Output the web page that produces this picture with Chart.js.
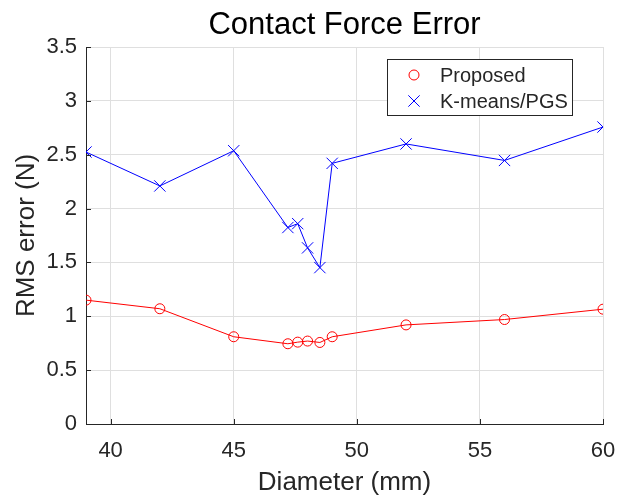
<!DOCTYPE html>
<html>
<head>
<meta charset="utf-8">
<script src="https://cdn.jsdelivr.net/npm/chart.js@4.4.1/dist/chart.umd.min.js"></script>
<style>
  html, body { margin: 0; padding: 0; background: #fff; }
  #wrap { width: 621px; height: 495px; }
</style>
</head>
<body>
<div id="wrap"><canvas id="force-chart"></canvas></div>
<script>
const diameters = [39, 42, 45, 47.2, 47.6, 48, 48.5, 49, 52, 56, 60];
const proposedErr = [1.15, 1.07, 0.81, 0.745, 0.76, 0.77, 0.757, 0.81, 0.92, 0.97, 1.066];
const kmeansErr = [2.525, 2.21, 2.537, 1.824, 1.86, 1.635, 1.452, 2.42, 2.6, 2.447, 2.757];
const xTicks = [40, 45, 50, 55, 60];
const yTicks = [0, 0.5, 1, 1.5, 2, 2.5, 3, 3.5];
const seriesNames = ['Proposed', 'K-means/PGS'];
const chartTitle = 'Contact Force Error';

const INK = '#262626';
const GRID = '#dfdfdf';
const FONT = "'Liberation Sans', Arial, sans-serif";

function points(ys) {
  return diameters.map((x, i) => ({ x, y: ys[i] }));
}

// title centred over the plot area rather than the whole canvas
const axesTitle = {
  id: 'axesTitle',
  afterDraw(chart) {
    const { ctx, chartArea: a } = chart;
    ctx.save();
    ctx.fillStyle = '#000';
    ctx.font = `31px ${FONT}`;
    ctx.textAlign = 'center';
    ctx.textBaseline = 'alphabetic';
    ctx.fillText(chartTitle, (a.left + a.right) / 2, 33.5);
    ctx.restore();
  },
};

// small inward tick marks along the left and bottom axes
const innerTicks = {
  id: 'innerTicks',
  afterDraw(chart) {
    const { ctx, chartArea: a, scales } = chart;
    ctx.save();
    ctx.strokeStyle = INK;
    ctx.lineWidth = 1;
    ctx.beginPath();
    yTicks.forEach((v) => {
      const y = Math.round(scales.y.getPixelForValue(v)) + 0.5;
      ctx.moveTo(a.left, y);
      ctx.lineTo(a.left + 5, y);
    });
    xTicks.forEach((v) => {
      const x = Math.round(scales.x.getPixelForValue(v)) + 0.5;
      ctx.moveTo(x, a.bottom);
      ctx.lineTo(x, a.bottom - 5);
    });
    ctx.stroke();
    ctx.restore();
  },
};

// boxed legend in the upper right of the plot
const boxLegend = {
  id: 'boxLegend',
  afterDraw(chart) {
    const { ctx, chartArea: a } = chart;
    const left = a.right - 216, top = a.top + 12, w = 185, h = 56;
    ctx.save();
    ctx.fillStyle = '#fff';
    ctx.fillRect(left, top, w, h);
    ctx.strokeStyle = INK;
    ctx.lineWidth = 1;
    ctx.strokeRect(left + 0.5, top + 0.5, w, h);
    ctx.font = `20px ${FONT}`;
    ctx.textBaseline = 'middle';
    chart.data.datasets.forEach((ds, i) => {
      const cy = top + 16 + i * 26;
      ctx.strokeStyle = ds.borderColor;
      ctx.fillStyle = 'rgba(0,0,0,0)';
      ctx.lineWidth = 1;
      Chart.helpers.drawPoint(ctx, { pointStyle: ds.pointStyle, radius: ds.pointRadius, borderWidth: 1 }, left + 27, cy);
      ctx.fillStyle = INK;
      ctx.fillText(ds.label, left + 53, cy + 1);
    });
    ctx.restore();
  },
};

new Chart(document.getElementById('force-chart'), {
  type: 'scatter',
  data: {
    datasets: [
      {
        label: seriesNames[0],
        data: points(proposedErr),
        showLine: true,
        borderColor: '#ff0000',
        backgroundColor: 'rgba(0,0,0,0)',
        borderWidth: 1,
        pointStyle: 'circle',
        pointRadius: 5,
        pointBorderWidth: 1,
      },
      {
        label: seriesNames[1],
        data: points(kmeansErr),
        showLine: true,
        borderColor: '#0000ff',
        backgroundColor: 'rgba(0,0,0,0)',
        borderWidth: 1,
        pointStyle: 'crossRot',
        pointRadius: 8,
        pointBorderWidth: 1,
      },
    ],
  },
  options: {
    responsive: true,
    maintainAspectRatio: false,
    animation: false,
    layout: { padding: { left: 0, right: 18, top: 47, bottom: 0 } },
    plugins: {
      legend: { display: false },
      tooltip: { enabled: false },
      title: { display: false },
    },
    scales: {
      x: {
        type: 'linear',
        min: 39,
        max: 60,
        afterBuildTicks: (s) => { s.ticks = xTicks.map((value) => ({ value })); },
        afterFit: (s) => { s.height = 71; s.paddingLeft = 0; s.paddingRight = 0; },
        ticks: { color: INK, font: { family: FONT, size: 22 }, padding: 14, callback: (v) => `${v}` },
        grid: { color: GRID, drawTicks: false },
        border: { color: INK, width: 1 },
        title: {
          display: true,
          text: 'Diameter (mm)',
          color: INK,
          font: { family: FONT, size: 26 },
          padding: { top: 0, bottom: -3 },
        },
      },
      y: {
        type: 'linear',
        min: 0,
        max: 3.5,
        afterBuildTicks: (s) => { s.ticks = yTicks.map((value) => ({ value })); },
        afterFit: (s) => { s.width = 86; s.paddingTop = 0; s.paddingBottom = 0; },
        ticks: { color: INK, font: { family: FONT, size: 22 }, padding: 9, callback: (v) => `${v}` },
        grid: { color: GRID, drawTicks: false },
        border: { color: INK, width: 1 },
        title: {
          display: true,
          text: 'RMS error (N)',
          color: INK,
          font: { family: FONT, size: 26 },
          padding: { top: 11, bottom: 0 },
        },
      },
    },
  },
  plugins: [axesTitle, innerTicks, boxLegend],
});
</script>
</body>
</html>
